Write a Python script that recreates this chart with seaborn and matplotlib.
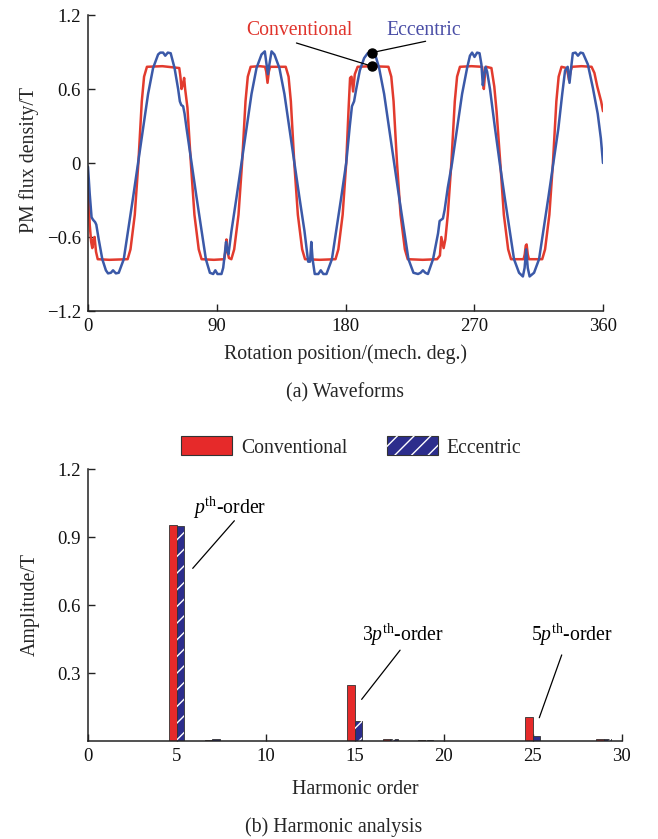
import numpy as np
import pandas as pd
import matplotlib
matplotlib.use("Agg")
import matplotlib.pyplot as plt
from matplotlib.patches import Patch, Rectangle
from matplotlib.legend_handler import HandlerTuple
import seaborn as sns

# ---------------- data: waveforms ----------------
red_deg = [0, 1.2, 2.2, 3.0, 3.8, 4.6, 5.6, 6.8, 15, 27.7, 29.7, 32.7, 35.2, 37.6, 39.2, 41.2,
           52, 63.8, 64.6, 65.4, 66.4, 67.2, 67.9, 69.5, 71.9, 74.4, 77.4, 79.4, 88, 95.2,
           96.0, 96.8, 97.6, 98.5, 100.2, 102.2, 105.2, 107.7, 110.1, 111.7, 113.7, 120, 123.8,
           124.6, 125.5, 126.4, 127.3, 138.2, 140.2, 141.8, 144.2, 146.7, 149.7, 151.7, 162,
           173, 175, 178, 180.5, 182.2, 183.2, 184.2, 185.3, 186.5, 188.5, 198, 210, 212, 213.6,
           216, 218.5, 221.5, 223.5, 234, 244, 246, 247, 248.6, 249.8, 251.5, 254, 256.4, 258,
           260, 268, 275.5, 276.2, 276.7, 277.5, 278.3, 282, 284, 285.6, 288.2, 290.7, 293.7,
           295.7, 304.5, 305.3, 306.0, 306.6, 307.4, 308.2, 317.5, 319.5, 322.5, 325, 327.4,
           329, 331, 334.5, 335.5, 336.3, 337.2, 338.3, 345, 352, 354, 356, 358.7, 360]
red_val = [-0.17, -0.5, -0.64, -0.69, -0.62, -0.6, -0.72, -0.78, -0.785, -0.78, -0.7, -0.42, 0, 0.5, 0.7, 0.78,
           0.785, 0.77, 0.7, 0.6, 0.64, 0.69, 0.6, 0.45, 0, -0.42, -0.7, -0.78, -0.785, -0.78,
           -0.72, -0.62, -0.72, -0.77, -0.78, -0.7, -0.42, 0, 0.5, 0.7, 0.78, 0.785, 0.78,
           0.74, 0.65, 0.74, 0.78, 0.78, 0.7, 0.5, 0, -0.42, -0.7, -0.78, -0.785,
           -0.78, -0.7, -0.42, 0, 0.45, 0.69, 0.7, 0.58, 0.72, 0.78, 0.785, 0.78, 0.7, 0.5,
           0, -0.42, -0.7, -0.78, -0.785, -0.78, -0.75, -0.6, -0.69, -0.62, -0.42, 0, 0.5, 0.7,
           0.78, 0.785, 0.78, 0.7, 0.6, 0.72, 0.78, 0.77, 0.62, 0.42, 0, -0.42, -0.7,
           -0.78, -0.78, -0.74, -0.67, -0.66, -0.74, -0.78, -0.78, -0.7, -0.42, 0, 0.5,
           0.7, 0.78, 0.77, 0.72, 0.67, 0.74, 0.78, 0.785, 0.78, 0.73, 0.62, 0.5, 0.42]

blue_deg = [0, 1.2, 2.5, 3.5, 5.0, 5.8, 7.5, 10, 12.5, 14, 16, 17.5, 19.5, 21.5, 25, 28, 31.5, 35,
            38.5, 42, 45.5, 49, 50.5, 52.5, 54, 55.8, 57.8, 60.5, 63, 64.2, 65.2, 66.5, 67.5,
            68.9, 72.4, 75.9, 79.4, 82.4, 85.2, 87.5, 89, 90.5, 93.3, 94.5, 95.5, 96.5, 97.3,
            98.2, 100.3, 103.8, 107.3, 110.8, 114.3, 117.8, 121.3, 123.6, 124.8, 125.8, 126.8,
            128.3, 130.3, 133.8, 137.3, 140.8, 144.3, 147.8, 151.3, 153.9, 155.2, 156.1, 157,
            158.5, 161, 162.7, 164.5, 166.7, 170.5, 173.5, 177, 180.5, 183, 184.5, 186, 187.5,
            190, 193, 195.5, 197, 199.5, 201, 203.5, 207, 210.5, 214, 217.5, 221, 224, 227.5,
            230.7, 232.5, 234.1, 235.8, 237.6, 241.2, 244.7, 245.8, 248.1, 249.3, 251.5, 254.5,
            258, 261.5, 265, 267, 268.5, 270.2, 272, 273.7, 275, 276, 277, 277.9, 279, 281,
            284.3, 287.8, 291.3, 294.8, 297.8, 301.3, 304, 305.2, 306.3, 307.4, 308.7, 311.8,
            315.3, 318.3, 321.8, 325.3, 328.8, 331.5, 333.5, 335.3, 336.6, 337.8, 338.9, 340.8,
            342.5, 344.3, 346, 349.4, 352.9, 356.3, 358.5, 360]
blue_val = [-0.03, -0.25, -0.44, -0.46, -0.48, -0.5, -0.62, -0.78, -0.87, -0.895, -0.89, -0.87, -0.895, -0.89, -0.78, -0.55, -0.28, 0,
            0.28, 0.56, 0.77, 0.88, 0.895, 0.895, 0.87, 0.895, 0.89, 0.77, 0.6, 0.5, 0.47, 0.46, 0.4,
            0.28, 0, -0.28, -0.55, -0.78, -0.89, -0.9, -0.87, -0.9, -0.9, -0.85, -0.75, -0.64, -0.7,
            -0.74, -0.55, -0.28, 0, 0.28, 0.56, 0.77, 0.88, 0.905, 0.8, 0.72, 0.8,
            0.905, 0.88, 0.77, 0.56, 0.28, 0, -0.28, -0.55, -0.8, -0.8, -0.64, -0.78,
            -0.9, -0.9, -0.87, -0.9, -0.9, -0.78, -0.55, -0.28, 0, 0.3, 0.46, 0.5, 0.6,
            0.75, 0.85, 0.89, 0.895, 0.895, 0.87, 0.77, 0.56, 0.28, 0, -0.28, -0.55, -0.78, -0.89,
            -0.9, -0.89, -0.87, -0.89, -0.9, -0.78, -0.57, -0.47, -0.45, -0.38, -0.2, 0,
            0.28, 0.56, 0.77, 0.87, 0.895, 0.86, 0.895, 0.89, 0.8, 0.63, 0.72, 0.78, 0.74, 0.6,
            0.3, 0, -0.28, -0.55, -0.78, -0.89, -0.92, -0.85, -0.7, -0.85, -0.92, -0.89,
            -0.78, -0.55, -0.28, 0, 0.28, 0.56, 0.75, 0.78, 0.65, 0.78, 0.89, 0.895,
            0.87, 0.895, 0.89, 0.8, 0.61, 0.4, 0.2, 0.0]

# ---------------- data: harmonic analysis ----------------
orders = [5, 7, 15, 17, 19, 25, 29]
conv_amp = [0.955, 0.005, 0.248, 0.010, 0.006, 0.109, 0.010]
ecc_amp = [0.950, 0.008, 0.090, 0.012, 0.004, 0.022, 0.010]

series_names = ["Conventional", "Eccentric"]
y1_ticks = [-1.2, -0.6, 0, 0.6, 1.2]
y1_labels = ["\u22121.2", "\u22120.6", "0", "0.6", "1.2"]
x1_ticks = [0, 90, 180, 270, 360]
x2_ticks = [0, 5, 10, 15, 20, 25, 30]
y2_ticks = [0.3, 0.6, 0.9, 1.2]

# ---------------- style ----------------
sns.set_theme(style="ticks")
plt.rcParams["font.family"] = ["Liberation Serif", "DejaVu Serif"]
plt.rcParams["mathtext.fontset"] = "custom"
plt.rcParams["mathtext.rm"] = "Liberation Serif"
plt.rcParams["mathtext.it"] = "Liberation Serif:italic"
plt.rcParams["hatch.linewidth"] = 1.0

RED_LINE = "#e23b2e"
BLUE_LINE = "#3b59a8"
RED_BAR = "#e62a2a"
BLUE_BAR = "#2c2d8c"
DARK = "#222222"
TICK_FS = 13.5
LAB_FS = 14.3

W, H = 658, 839
fig = plt.figure(figsize=(W / 100, H / 100), dpi=100)

def fx(px):
    return px / W

def fy(py):
    return 1 - py / H

# ---------------- (a) waveforms ----------------
ax1 = fig.add_axes([fx(88), fy(311), fx(603) - fx(88), (311 - 15) / H])
wave = pd.concat([
    pd.DataFrame({"deg": red_deg, "val": red_val, "series": "Conventional"}),
    pd.DataFrame({"deg": blue_deg, "val": blue_val, "series": "Eccentric"}),
])
sns.lineplot(data=wave, x="deg", y="val", hue="series", hue_order=series_names,
             palette={"Conventional": RED_LINE, "Eccentric": BLUE_LINE},
             sort=False, estimator=None, legend=False, linewidth=1.8, ax=ax1)
ax1.set_xlim(0, 360)
ax1.set_ylim(-1.2, 1.2)
ax1.set_xticks(x1_ticks)
ax1.set_xticklabels([str(t) for t in x1_ticks])
ax1.set_yticks(y1_ticks)
ax1.set_yticklabels(y1_labels)
ax1.set_xlabel("")
ax1.set_ylabel("")

# annotation dots on the curves
anchor = 198.5
red_pt = float(np.interp(anchor, red_deg, red_val))
blue_pt = float(np.interp(anchor, blue_deg, blue_val))
ax1.plot([145.7, anchor], [0.973, red_pt], color="black", lw=0.9, zorder=4)
ax1.plot([236.0, anchor], [0.987, blue_pt], color="black", lw=0.9, zorder=4)
ax1.plot([anchor, anchor], [red_pt, blue_pt], ls="none", marker="o", ms=6.5,
         color="black", zorder=5)
ax1.text(148, 1.073, "Conventional", color="#e0342c", fontsize=14.2,
         ha="center", va="center")
ax1.text(234.6, 1.075, "Eccentric", color="#4a4ea6", fontsize=14.2,
         ha="center", va="center")

# ---------------- (b) harmonic analysis ----------------
ax2 = fig.add_axes([fx(87.7), fy(741.3), fx(621.7) - fx(87.7), (741.3 - 469.3) / H])
harm = pd.concat([
    pd.DataFrame({"order": orders, "amp": conv_amp, "series": "Conventional"}),
    pd.DataFrame({"order": orders, "amp": ecc_amp, "series": "Eccentric"}),
])
sns.barplot(data=harm, x="order", y="amp", hue="series", hue_order=series_names,
            palette={"Conventional": RED_BAR, "Eccentric": BLUE_BAR},
            native_scale=True, width=0.42, dodge=True, gap=0, saturation=1,
            edgecolor="#333333", linewidth=0.6, legend=False, ax=ax2)
# white hatching over the eccentric bars
blue_rgba = matplotlib.colors.to_rgba(BLUE_BAR)
for p in list(ax2.patches):
    if np.allclose(p.get_facecolor()[:3], blue_rgba[:3], atol=0.03):
        ax2.add_patch(Rectangle(p.get_xy(), p.get_width(), p.get_height(),
                                fill=False, edgecolor="white", lw=0, hatch="//",
                                zorder=p.get_zorder() + 0.1))
ax2.set_xlim(0, 30)
ax2.set_ylim(0, 1.2)
ax2.set_xticks(x2_ticks)
ax2.set_xticklabels([str(t) for t in x2_ticks])
ax2.set_yticks(y2_ticks)
ax2.set_yticklabels([f"{t:.1f}" for t in y2_ticks])
ax2.set_xlabel("")
ax2.set_ylabel("")

# harmonic order annotations
ann = [(r"$p^{\rm th}$-order", 7.95, 1.03, (8.24, 0.973), (5.9, 0.763)),
       (r"3$p^{\rm th}$-order", 17.7, 0.469, (17.55, 0.402), (15.39, 0.185)),
       (r"5$p^{\rm th}$-order", 27.2, 0.469, (26.63, 0.381), (25.37, 0.104))]
for txt, tx, ty, p0, p1 in ann:
    ax2.text(tx, ty, txt, fontsize=14.2, ha="center", va="center", color="black")
    ax2.plot([p0[0], p1[0]], [p0[1], p1[1]], color="black", lw=0.9)

# legend
h_conv = Patch(facecolor=RED_BAR, edgecolor="#333333", lw=0.8)
h_ecc = (Patch(facecolor=BLUE_BAR, edgecolor="#333333", lw=0.8),
         Patch(fill=False, edgecolor="white", lw=0, hatch="//"))
fig.legend([h_conv, h_ecc], series_names, loc="center",
           bbox_to_anchor=(fx(351), fy(447)), ncol=2, frameon=False,
           fontsize=14.2, handlelength=2.6, handleheight=1.1, columnspacing=2.0,
           handletextpad=0.45, handler_map={tuple: HandlerTuple(ndivide=1)})

for ax in (ax1, ax2):
    sns.despine(ax=ax)
    for s in ("left", "bottom"):
        ax.spines[s].set_color(DARK)
        ax.spines[s].set_linewidth(1.1)
    ax.tick_params(direction="in", length=5, width=1.0, color=DARK,
                   labelsize=TICK_FS, labelcolor="#111111", pad=5)

# axis labels & captions
fig.text(fx(345.5), fy(354), "Rotation position/(mech. deg.)", fontsize=LAB_FS,
         ha="center", va="center")
fig.text(fx(345), fy(393), "(a) Waveforms", fontsize=LAB_FS, ha="center", va="center")
fig.text(fx(29), fy(160), "PM flux density/T", fontsize=LAB_FS, rotation=90,
         ha="center", va="center")
fig.text(fx(30), fy(605), "Amplitude/T", fontsize=LAB_FS, rotation=90,
         ha="center", va="center")
fig.text(fx(355), fy(789), "Harmonic order", fontsize=LAB_FS, ha="center", va="center")
fig.text(fx(334), fy(827), "(b) Harmonic analysis", fontsize=LAB_FS,
         ha="center", va="center")

fig.savefig("out.png", dpi=100, facecolor="white")
